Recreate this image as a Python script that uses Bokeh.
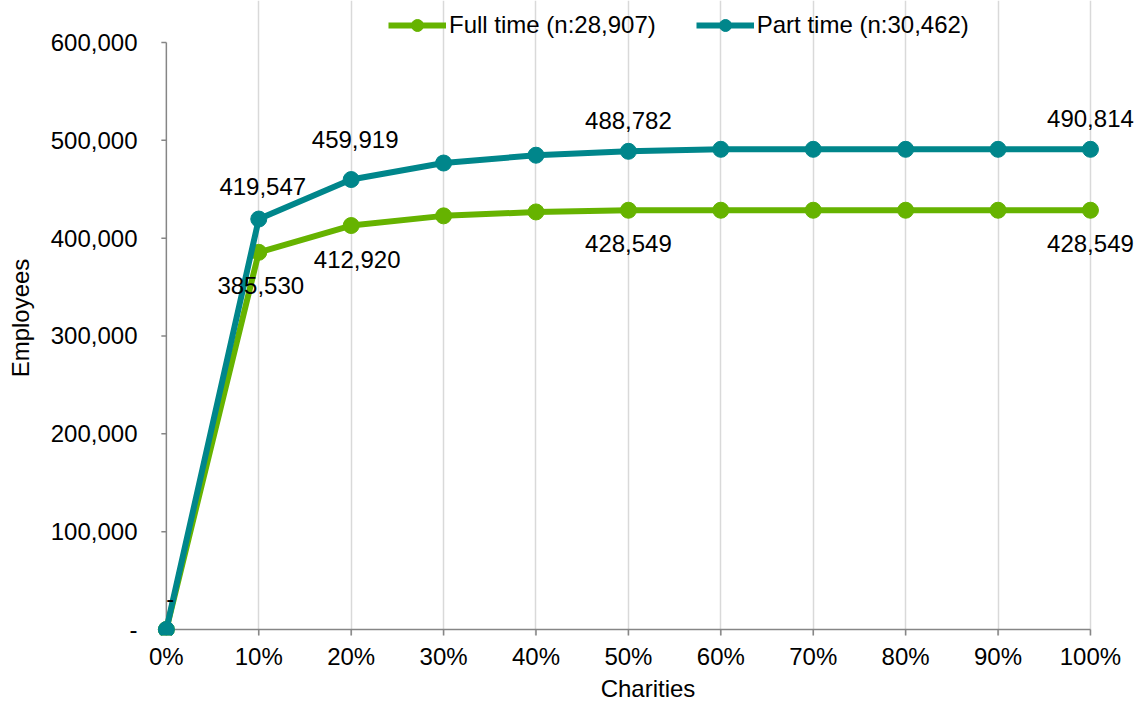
import math
from bokeh.plotting import figure
from bokeh.models import Range1d, FixedTicker, Legend, LegendItem, ColumnDataSource
from bokeh.core.properties import value
from bokeh.embed import file_html
from bokeh.resources import INLINE

charities = [0, 10, 20, 30, 40, 50, 60, 70, 80, 90, 100]
x_tick_labels = ["0%", "10%", "20%", "30%", "40%", "50%", "60%", "70%", "80%", "90%", "100%"]
full_time = [0, 385530, 412920, 422800, 426800, 428549, 428549, 428549, 428549, 428549, 428549]
part_time = [0, 419547, 459919, 476800, 484800, 488782, 490814, 490814, 490814, 490814, 490814]
y_ticks = [0, 100000, 200000, 300000, 400000, 500000, 600000]
y_tick_labels = ["-", "100,000", "200,000", "300,000", "400,000", "500,000", "600,000"]
label_idx = [0, 1, 2, 5, 10]
full_label_text = ["-", "385,530", "412,920", "428,549", "428,549"]
part_label_text = ["-", "419,547", "459,919", "488,782", "490,814"]
full_name = "Full time (n:28,907)"
part_name = "Part time (n:30,462)"

# label placement (screen px)
full_lab_dx = [4, 2, 6, 0, 0]
full_lab_dy = [36, 33, 34, 33, 33]
part_lab_dx = [4, 4, 4, 0, 0]
part_lab_dy = [-31, -33, -40, -31, -31]

GREEN = "#66B300"
TEAL = "#00868B"
AXIS = "#868686"
FONT = "Liberation Sans"
FS = "24px"

p = figure(width=1143, height=704, output_backend="svg", toolbar_location=None, title=None,
           x_range=Range1d(-1.5, 105.74), y_range=Range1d(-6133, 642930),
           min_border_left=152, min_border_right=0, min_border_top=0, min_border_bottom=69)
p.outline_line_color = None
p.background_fill_color = "white"
p.border_fill_color = "white"

# axes: labels only (lines and ticks drawn at data zero below)
p.xaxis.ticker = FixedTicker(ticks=charities)
p.xaxis.major_label_overrides = {c: t for c, t in zip(charities, x_tick_labels)}
p.yaxis.ticker = FixedTicker(ticks=y_ticks)
p.yaxis.major_label_overrides = {v: t for v, t in zip(y_ticks, y_tick_labels)}
for ax in (p.xaxis, p.yaxis):
    ax.axis_line_color = None
    ax.major_tick_line_color = None
    ax.minor_tick_line_color = None
    ax.major_tick_in = 0
    ax.major_tick_out = 0
    ax.major_label_text_font = FONT
    ax.major_label_text_font_size = FS
    ax.major_label_text_color = "black"
    ax.axis_label_text_font = FONT
    ax.axis_label_text_font_size = FS
    ax.axis_label_text_font_style = "normal"
    ax.axis_label_text_color = "black"
p.xaxis.major_label_standoff = 7
p.yaxis.major_label_standoff = 15
p.xaxis.axis_label = "Charities"
p.yaxis.axis_label = "Employees"
p.xaxis.axis_label_standoff = 2
p.yaxis.axis_label_standoff = 14

p.xgrid.ticker = FixedTicker(ticks=charities[1:])
p.xgrid.grid_line_color = "#D9D9D9"
p.xgrid.grid_line_width = 1.5
p.ygrid.grid_line_color = None

# axis lines and tick marks at zero
p.segment(x0=charities[0], y0=0, x1=charities[-1], y1=0, line_color=AXIS, line_width=1.5)
p.segment(x0=0, y0=y_ticks[0], x1=0, y1=y_ticks[-1], line_color=AXIS, line_width=1.5)
p.ray(x=charities, y=[0] * len(charities), length=7, angle=-math.pi / 2,
      length_units="screen", line_color=AXIS, line_width=1.5)
p.ray(x=[0] * len(y_ticks), y=y_ticks, length=5, angle=math.pi,
      length_units="screen", line_color=AXIS, line_width=1.5)

src = ColumnDataSource(dict(x=charities, full=full_time, part=part_time))
fl = p.line("x", "full", source=src, color=GREEN, line_width=6)
fc = p.scatter("x", "full", source=src, color=GREEN, size=16)
pl = p.line("x", "part", source=src, color=TEAL, line_width=6)
pc = p.scatter("x", "part", source=src, color=TEAL, size=16)

lab_x = [charities[i] for i in label_idx]
fsrc = ColumnDataSource(dict(x=lab_x, y=[full_time[i] for i in label_idx], t=full_label_text,
                             dx=full_lab_dx, dy=full_lab_dy))
psrc = ColumnDataSource(dict(x=lab_x, y=[part_time[i] for i in label_idx], t=part_label_text,
                             dx=part_lab_dx, dy=part_lab_dy))
for s in (fsrc, psrc):
    p.text(x="x", y="y", text="t", source=s, x_offset="dx", y_offset="dy",
           text_font=value(FONT), text_font_size=FS, text_color="black",
           text_align="center", text_baseline="middle")

legend = Legend(items=[LegendItem(label=full_name, renderers=[fl, fc]),
                       LegendItem(label=part_name, renderers=[pl, pc])],
                orientation="horizontal", location=(236, 595),
                label_text_font=FONT, label_text_font_size=FS,
                label_text_color="black", glyph_width=58, glyph_height=30,
                padding=0, margin=0, spacing=40, label_standoff=3,
                border_line_color=None, background_fill_alpha=0)
p.add_layout(legend, "center")

open("out.html", "w").write(file_html(p, INLINE))
